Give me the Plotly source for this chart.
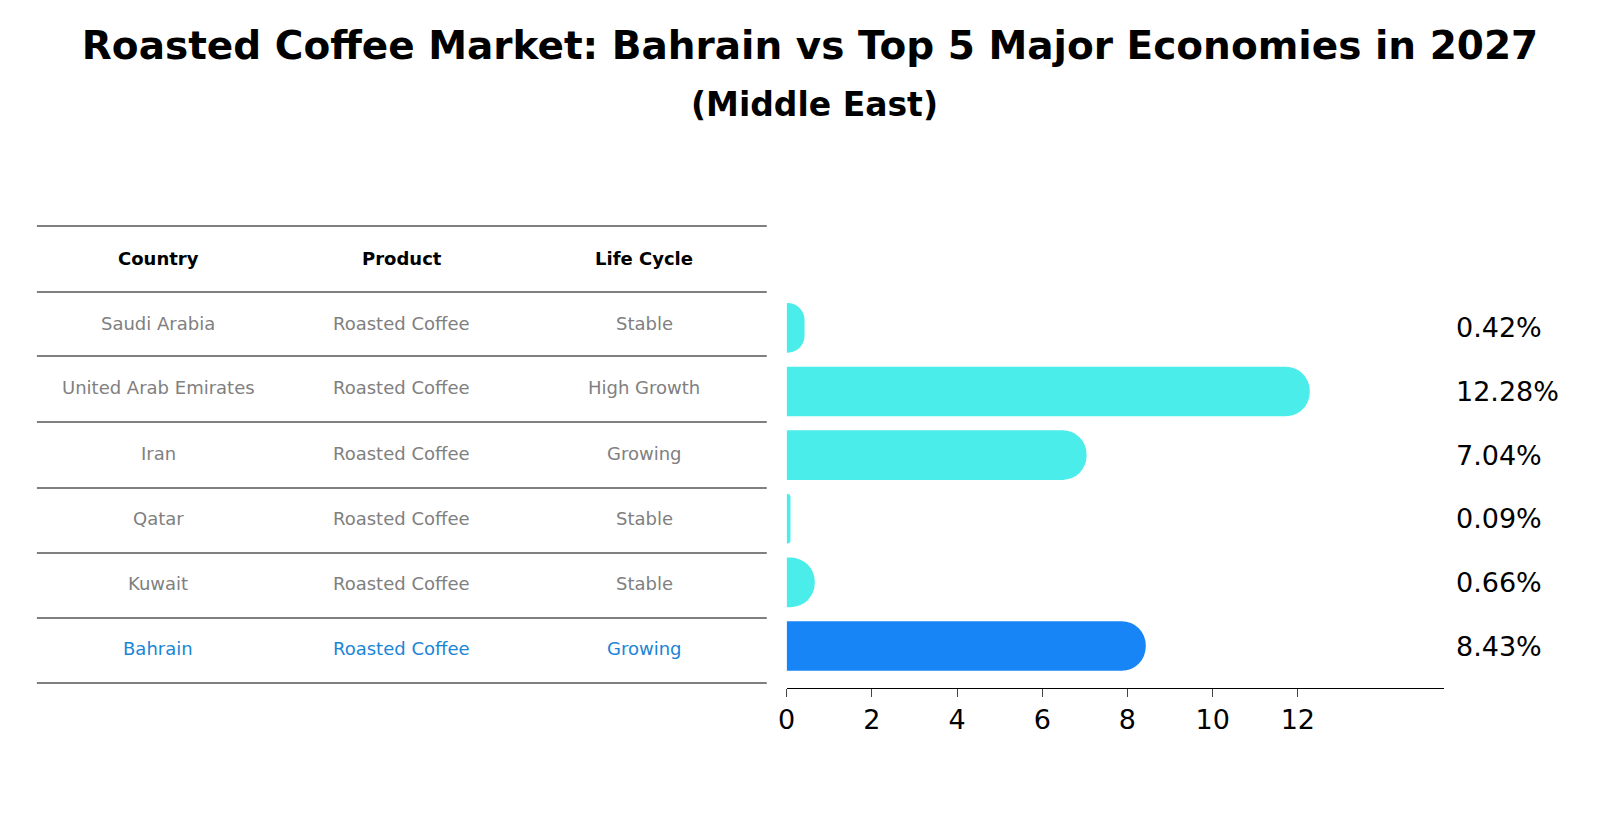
import plotly.graph_objects as go

countries = ['Saudi Arabia', 'United Arab Emirates', 'Iran', 'Qatar', 'Kuwait', 'Bahrain']
products = ['Roasted Coffee'] * 6
life_cycle = ['Stable', 'High Growth', 'Growing', 'Stable', 'Stable', 'Growing']
growth = [0.42, 12.28, 7.04, 0.09, 0.66, 8.43]

W, H = 1604, 823
def px(x):
    return x / W
def py(y):
    return 1 - y / H

cyan = '#4aedea'
blue = '#1785f5'
n = len(countries)
ypos = list(range(n - 1, -1, -1))
colors = [blue if c == 'Bahrain' else cyan for c in countries]

fig = go.Figure(go.Bar(x=growth, y=ypos, orientation='h', width=0.78,
                       marker=dict(color=colors, line=dict(width=0))))

ann = []
shapes = []
# table
cols_x = [142, 387, 631]
row_h = 65
ann += [dict(x=px(cx), y=py(250), xref='paper', yref='paper', text='<b>%s</b>' % t,
             showarrow=False, xanchor='center', yanchor='middle',
             font=dict(size=18, color='black'))
        for cx, t in zip(cols_x, ['Country', 'Product', 'Life Cycle'])]
for i, (c, p, l) in enumerate(zip(countries, products, life_cycle)):
    yy = 315 + i * row_h
    col = '#1a85d6' if c == 'Bahrain' else 'grey'
    for cx, t in zip(cols_x, [c, p, l]):
        ann.append(dict(x=px(cx), y=py(yy), xref='paper', yref='paper', text=t,
                        showarrow=False, xanchor='center', yanchor='middle',
                        font=dict(size=18, color=col)))
for yl in [218, 284, 348, 414, 480, 545, 610, 675]:
    shapes.append(dict(type='line', xref='paper', yref='paper', x0=px(20), x1=px(754),
                       y0=py(yl), y1=py(yl), line=dict(color='black', width=1)))
# value labels
for g, yv in zip(growth, ypos):
    ann.append(dict(x=px(1445), xref='paper', y=yv, yref='y', text='%.2f%%' % g,
                    showarrow=False, xanchor='left', yanchor='middle',
                    font=dict(size=27, color='black')))

ann.append(dict(x=0.5, y=py(97), xref='paper', yref='paper', text='<b>(Middle East)</b>',
                showarrow=False, xanchor='center', yanchor='middle',
                font=dict(size=33, color='black')))

fig.update_layout(
    width=W, height=H, margin=dict(l=0, r=0, t=0, b=0),
    plot_bgcolor='white', paper_bgcolor='white',
    font=dict(family='DejaVu Sans', color='black'),
    title=dict(text='<b>Roasted Coffee Market: Bahrain vs Top 5 Major Economies in 2027</b>',
               x=0.5, xanchor='center', y=py(37), yanchor='middle', font=dict(size=39)),
    barcornerradius='50%',
    showlegend=False,
    xaxis=dict(domain=[px(774), px(1435)], range=[0, 15.43], tickvals=[0, 2, 4, 6, 8, 10, 12],
               showgrid=False, zeroline=False, showline=True, linecolor='black',
               ticks='outside', ticklen=8, tickfont=dict(size=27), anchor='y'),
    yaxis=dict(domain=[py(680), py(288)], range=[-0.66, 5.5], showticklabels=False,
               showgrid=False, zeroline=False, showline=False),
    annotations=ann, shapes=shapes,
)
fig.write_html('out.html')
